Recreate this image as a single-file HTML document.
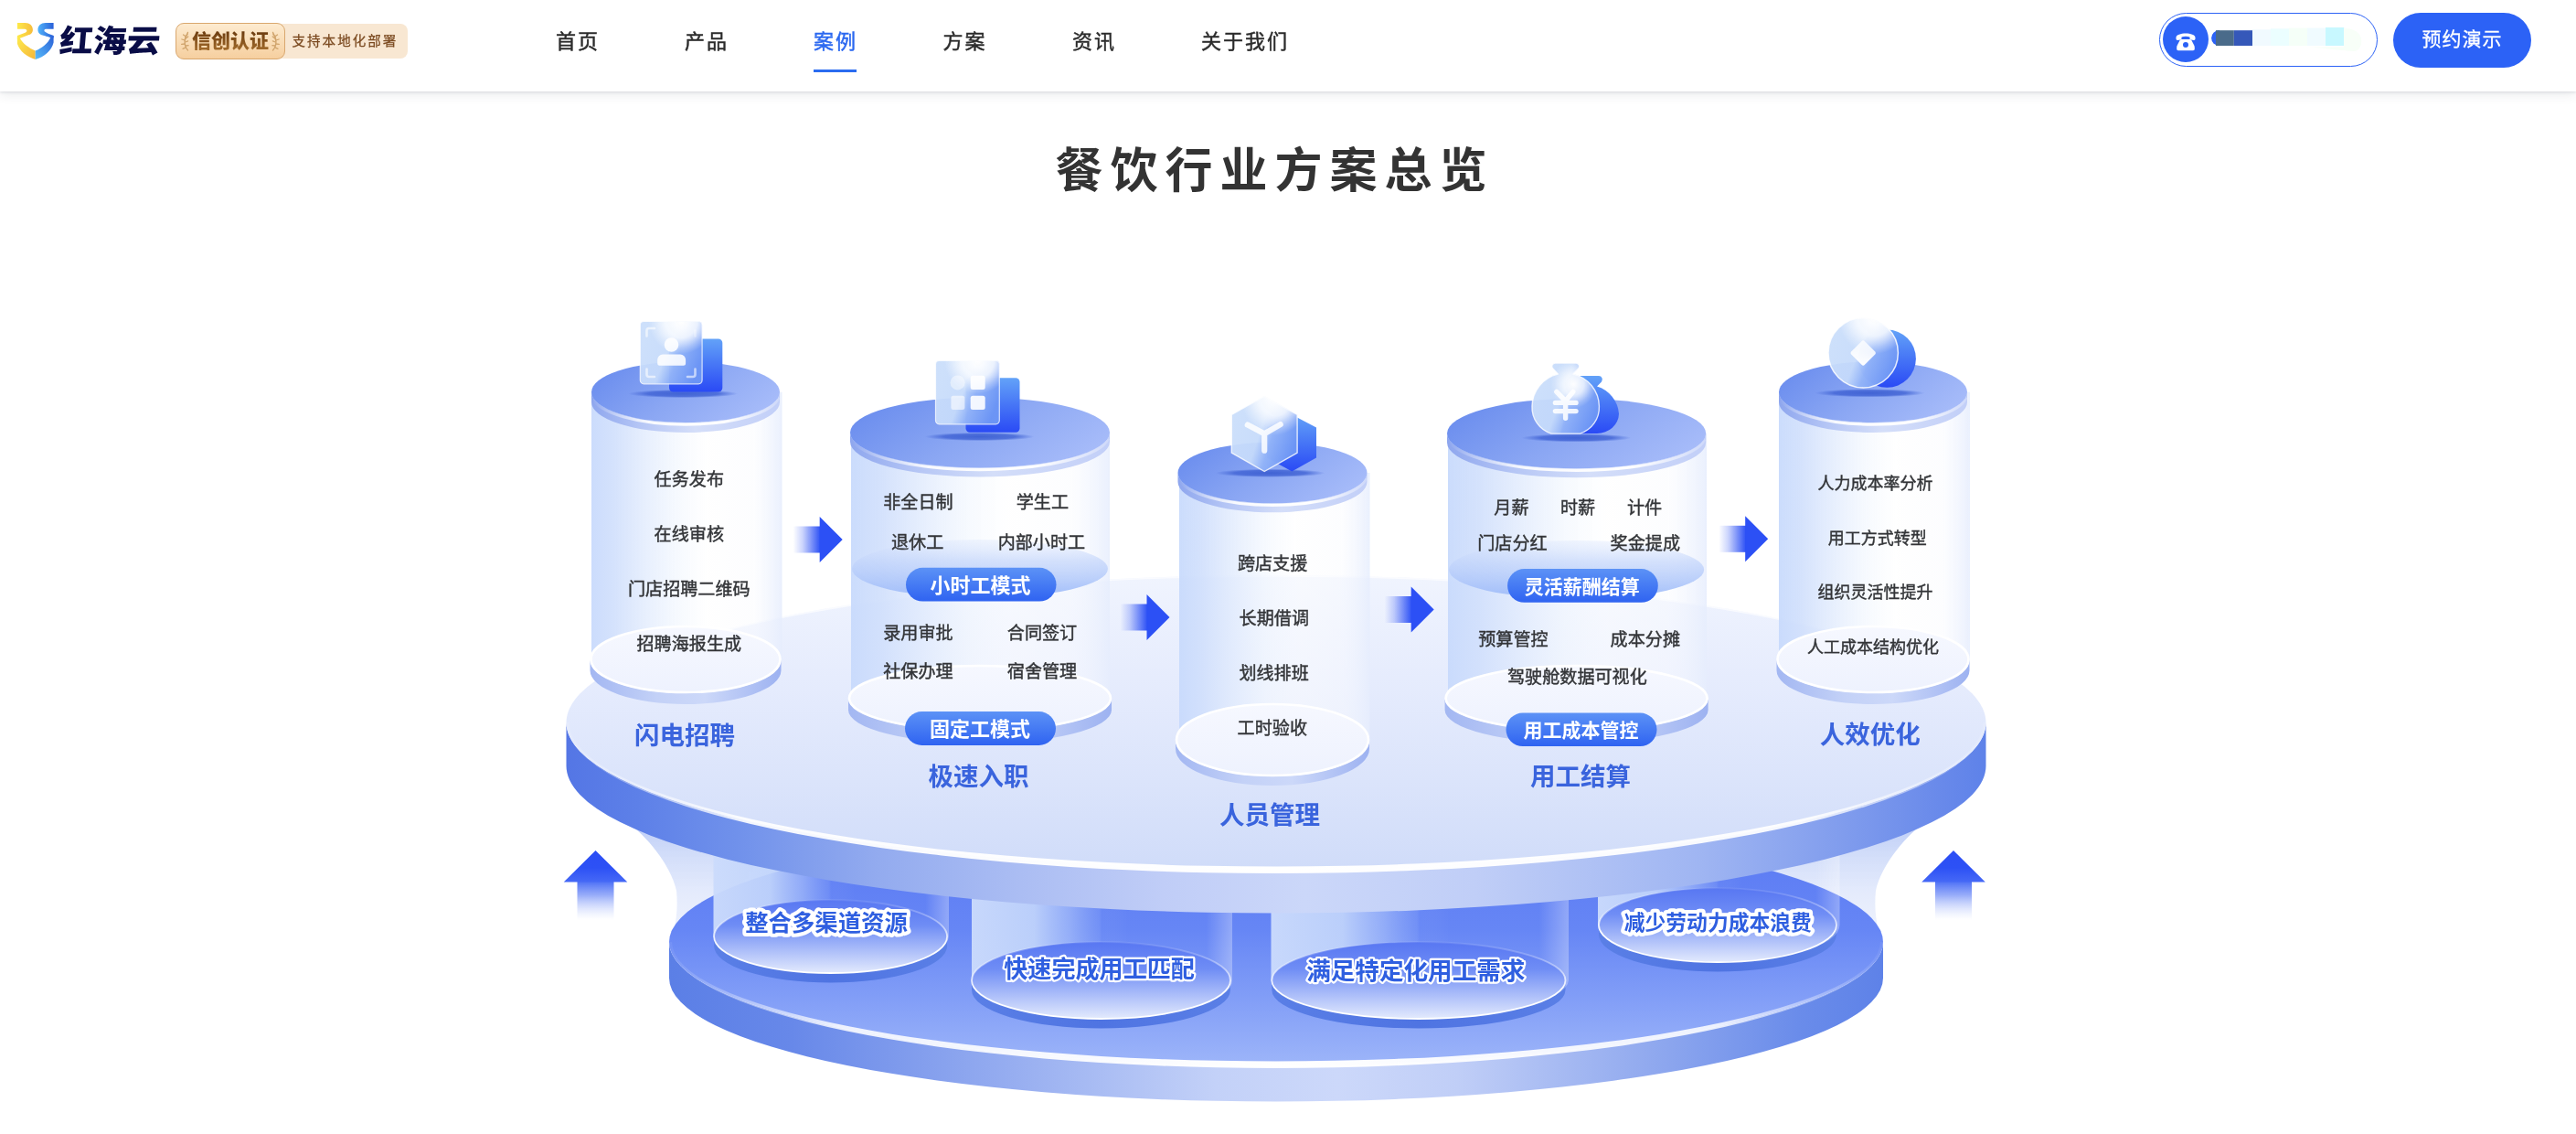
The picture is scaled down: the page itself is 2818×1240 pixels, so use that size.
<!DOCTYPE html>
<html lang="zh-CN"><head><meta charset="utf-8"><title>餐饮行业方案总览</title>
<style>
html,body{margin:0;padding:0;background:#fff;}
body{width:2818px;height:1240px;position:relative;overflow:hidden;font-family:'Liberation Sans','Noto Sans CJK SC',sans-serif;}
.hd{will-change:transform;position:absolute;left:0;top:0;width:2818px;height:100px;background:#fff;box-shadow:0 1px 3px rgba(40,50,70,.12),0 3px 12px rgba(40,50,70,.10);}
.hd *{position:absolute;white-space:nowrap;margin:0;}
.logo-t{left:62.5px;top:17.8px;font-size:34.3px;line-height:54px;font-weight:900;color:#0a0d47;letter-spacing:0;transform:skewX(-5deg) scaleX(1.07);transform-origin:0 100%;}
.bdg-r{left:300px;top:26px;width:146px;height:38px;border-radius:0 8px 8px 0;background:#f8e7d2;}
.bdg-r span{left:19.5px;top:0;line-height:38px;font-size:14.5px;letter-spacing:2.05px;color:#7b4a20;-webkit-text-stroke:0.25px #7b4a20;}
.bdg-l{left:192px;top:25px;width:118px;height:38px;border-radius:9px;border:1px solid #d9a76e;background:linear-gradient(180deg,#fdebd0 0%,#f9dcb5 55%,#f6cf9f 100%);}
.bdg-l span{left:0;width:118px;text-align:center;top:0;line-height:38px;font-size:21px;font-weight:900;letter-spacing:0px;color:transparent;background:linear-gradient(180deg,#6a3a0e 20%,#a9722f 85%);-webkit-background-clip:text;background-clip:text;}
.nav{top:0;height:100px;}
.nav a{top:28.6px;line-height:34px;font-size:22px;letter-spacing:2px;color:#2b2b2b;text-decoration:none;font-weight:400;-webkit-text-stroke:0.45px #2b2b2b;}
.nav a.on{color:#2b68f0;-webkit-text-stroke:0.45px #2b68f0;}
.nav i{left:890px;top:75.6px;width:47px;height:3.4px;background:#2b6cf0;}
.tel{left:2362px;top:14px;width:237px;height:56.5px;border:1.5px solid #2c62f6;border-radius:30px;}
.tel b{left:3px;top:3.2px;width:50px;height:50px;border-radius:50%;background:#2c62f6;}
.btn{left:2618px;top:14px;width:151px;height:60px;border-radius:30px;background:#2c62f6;color:#fff;font-size:21px;letter-spacing:1px;line-height:58px;text-align:center;-webkit-text-stroke:0.3px #fff;}
.ttl{left:0;top:148.8px;width:2789px;text-align:center;font-size:52px;letter-spacing:8px;line-height:76px;font-weight:700;color:#333;padding-left:0;}

</style></head><body>
<svg width="2818" height="1240" viewBox="0 0 2818 1240" style="position:absolute;left:0;top:0;will-change:transform" font-family="'Liberation Sans','Noto Sans CJK SC',sans-serif"><defs><linearGradient id="capTop" x1="0" y1="0.2" x2="1" y2="0.6"><stop offset="0" stop-color="#698cee"/><stop offset="0.5" stop-color="#8aa6f3"/><stop offset="1" stop-color="#a6bbf9"/></linearGradient><linearGradient id="capSide" x1="0" y1="0" x2="1" y2="0"><stop offset="0" stop-color="#8ea6ee"/><stop offset="0.25" stop-color="#b4c5f5"/><stop offset="0.55" stop-color="#d4def9"/><stop offset="1" stop-color="#c2cff8"/></linearGradient><linearGradient id="capHl" x1="0" y1="0" x2="1" y2="0"><stop offset="0" stop-color="#ffffff" stop-opacity="0"/><stop offset="0.3" stop-color="#ffffff" stop-opacity="0.9"/><stop offset="0.7" stop-color="#ffffff" stop-opacity="1"/><stop offset="1" stop-color="#ffffff" stop-opacity="0.2"/></linearGradient><linearGradient id="bodyG" x1="0" y1="0" x2="1" y2="0"><stop offset="0" stop-color="#c8dafc" stop-opacity="0.95"/><stop offset="0.12" stop-color="#d0dffc" stop-opacity="0.9"/><stop offset="0.45" stop-color="#f2f7fe" stop-opacity="0.7"/><stop offset="0.62" stop-color="#ffffff" stop-opacity="0.5"/><stop offset="0.85" stop-color="#fbfcff" stop-opacity="0.5"/><stop offset="1" stop-color="#e6edfd" stop-opacity="0.85"/></linearGradient><linearGradient id="botTop" x1="0" y1="0" x2="0" y2="1"><stop offset="0" stop-color="#f6f8ff"/><stop offset="1" stop-color="#eef2fe"/></linearGradient><linearGradient id="botSide" x1="0" y1="0" x2="1" y2="0"><stop offset="0" stop-color="#a3b7f2"/><stop offset="0.35" stop-color="#c3d1f7"/><stop offset="0.6" stop-color="#ccd8f9"/><stop offset="1" stop-color="#9db2f1"/></linearGradient><linearGradient id="pillG" x1="0" y1="0" x2="0" y2="1"><stop offset="0" stop-color="#5c92f6"/><stop offset="1" stop-color="#2f63f1"/></linearGradient><radialGradient id="shadG" cx="0.5" cy="0.5" r="0.5"><stop offset="0" stop-color="#3d60d2" stop-opacity="0.95"/><stop offset="0.65" stop-color="#4466d6" stop-opacity="0.85"/><stop offset="1" stop-color="#4668d6" stop-opacity="0"/></radialGradient><linearGradient id="midG" x1="0" y1="0" x2="0" y2="1"><stop offset="0" stop-color="#dbe6fd" stop-opacity="0.35"/><stop offset="0.35" stop-color="#c3d5fb" stop-opacity="0.7"/><stop offset="1" stop-color="#9bb9f9" stop-opacity="0.95"/></linearGradient><linearGradient id="l1" x1="640" y1="0" x2="2152" y2="0" gradientUnits="userSpaceOnUse"><stop offset="0" stop-color="#c4d3f8" stop-opacity="0.95"/><stop offset="0.08" stop-color="#dfe7fc" stop-opacity="0.8"/><stop offset="0.16" stop-color="#eef2fe" stop-opacity="0.55"/><stop offset="0.5" stop-color="#ffffff" stop-opacity="0.0"/><stop offset="0.84" stop-color="#eef2fe" stop-opacity="0.55"/><stop offset="0.92" stop-color="#dfe7fc" stop-opacity="0.8"/><stop offset="1" stop-color="#c4d3f8" stop-opacity="0.95"/></linearGradient><linearGradient id="l2" x1="0" y1="895" x2="0" y2="1032" gradientUnits="userSpaceOnUse"><stop offset="0" stop-color="#b7c8f6" stop-opacity="0.95"/><stop offset="0.3" stop-color="#cfdbf9" stop-opacity="0.92"/><stop offset="0.6" stop-color="#e2e9fc" stop-opacity="0.9"/><stop offset="1" stop-color="#f0f4fe" stop-opacity="0.9"/></linearGradient><linearGradient id="l3" x1="0" y1="0" x2="1" y2="0"><stop offset="0" stop-color="#5b7fe6"/><stop offset="0.1" stop-color="#6788e9"/><stop offset="0.3" stop-color="#9bb1f1"/><stop offset="0.45" stop-color="#c3d1f8"/><stop offset="0.55" stop-color="#ccd8fa"/><stop offset="0.65" stop-color="#c0cef7"/><stop offset="0.8" stop-color="#93abef"/><stop offset="0.93" stop-color="#6a8cea"/><stop offset="1" stop-color="#5e82e8"/></linearGradient><linearGradient id="l4" x1="0" y1="0" x2="0" y2="1"><stop offset="0" stop-color="#5877f3"/><stop offset="0.45" stop-color="#6686f5"/><stop offset="1" stop-color="#9db5f9"/></linearGradient><linearGradient id="l5" x1="732" y1="0" x2="2060" y2="0" gradientUnits="userSpaceOnUse"><stop offset="0" stop-color="#fff" stop-opacity="0.05"/><stop offset="0.05" stop-color="#fff" stop-opacity="0.3"/><stop offset="0.14" stop-color="#fff" stop-opacity="0.85"/><stop offset="0.5" stop-color="#fff" stop-opacity="1"/><stop offset="0.86" stop-color="#fff" stop-opacity="0.85"/><stop offset="0.95" stop-color="#fff" stop-opacity="0.3"/><stop offset="1" stop-color="#fff" stop-opacity="0.05"/></linearGradient><linearGradient id="l6" x1="0" y1="0" x2="1" y2="0"><stop offset="0" stop-color="#cbdbfc" stop-opacity="0.96"/><stop offset="0.24" stop-color="#c2d5fb" stop-opacity="0.92"/><stop offset="0.38" stop-color="#b0c6fa" stop-opacity="0.6"/><stop offset="0.49" stop-color="#a0b9f9" stop-opacity="0.22"/><stop offset="0.5" stop-color="#a0b9f9" stop-opacity="0.07"/><stop offset="0.6" stop-color="#ffffff" stop-opacity="0"/><stop offset="0.9" stop-color="#ffffff" stop-opacity="0.0"/><stop offset="1" stop-color="#ffffff" stop-opacity="0.3"/></linearGradient><linearGradient id="l7" x1="0" y1="0" x2="0" y2="1"><stop offset="0" stop-color="#5877f2"/><stop offset="0.35" stop-color="#6f8df5"/><stop offset="1" stop-color="#e3eafd"/></linearGradient><linearGradient id="l8" x1="0" y1="0" x2="0" y2="1"><stop offset="0" stop-color="#ffffff" stop-opacity="0.08"/><stop offset="0.35" stop-color="#ffffff" stop-opacity="0.45"/><stop offset="0.6" stop-color="#ffffff" stop-opacity="0.95"/><stop offset="1" stop-color="#ffffff" stop-opacity="1"/></linearGradient><linearGradient id="l9" x1="0" y1="0" x2="1" y2="0"><stop offset="0" stop-color="#5a7fe6"/><stop offset="0.5" stop-color="#4f74e2"/><stop offset="1" stop-color="#5a7fe6"/></linearGradient><linearGradient id="l10" x1="0" y1="0" x2="1" y2="0"><stop offset="0" stop-color="#5476e5"/><stop offset="0.05" stop-color="#5d80e8"/><stop offset="0.12" stop-color="#7091eb"/><stop offset="0.22" stop-color="#93abef"/><stop offset="0.32" stop-color="#abbdf3"/><stop offset="0.42" stop-color="#c0cdf7"/><stop offset="0.52" stop-color="#cbd7f9"/><stop offset="0.64" stop-color="#c0cef7"/><stop offset="0.8" stop-color="#9fb5f2"/><stop offset="0.9" stop-color="#809ced"/><stop offset="0.97" stop-color="#6889ea"/><stop offset="1" stop-color="#5e82e9"/></linearGradient><linearGradient id="l11" x1="0" y1="0" x2="0" y2="1"><stop offset="0" stop-color="#f0f4fe"/><stop offset="0.35" stop-color="#e6ecfd"/><stop offset="0.7" stop-color="#dbe4fb"/><stop offset="1" stop-color="#d0dcf9"/></linearGradient><linearGradient id="l12" x1="619.5" y1="0" x2="2172.5" y2="0" gradientUnits="userSpaceOnUse"><stop offset="0" stop-color="#fff" stop-opacity="0.1"/><stop offset="0.04" stop-color="#fff" stop-opacity="0.35"/><stop offset="0.13" stop-color="#fff" stop-opacity="0.92"/><stop offset="0.5" stop-color="#fff" stop-opacity="1"/><stop offset="0.87" stop-color="#fff" stop-opacity="0.92"/><stop offset="0.96" stop-color="#fff" stop-opacity="0.35"/><stop offset="1" stop-color="#fff" stop-opacity="0.1"/></linearGradient><linearGradient id="glassG" x1="0.05" y1="0.35" x2="0.95" y2="0.7"><stop offset="0" stop-color="#cadefb" stop-opacity="0.94"/><stop offset="0.42" stop-color="#c6dbfb" stop-opacity="0.94"/><stop offset="0.62" stop-color="#93b4f8" stop-opacity="0.96"/><stop offset="1" stop-color="#6d96f5" stop-opacity="0.97"/></linearGradient><radialGradient id="glassHi" cx="0.66" cy="0.0" r="0.52"><stop offset="0" stop-color="#ffffff" stop-opacity="1"/><stop offset="0.5" stop-color="#f8fbff" stop-opacity="0.88"/><stop offset="0.8" stop-color="#ffffff" stop-opacity="0.3"/><stop offset="1" stop-color="#ffffff" stop-opacity="0"/></radialGradient><radialGradient id="glassHiB" cx="0.62" cy="0.3" r="0.34"><stop offset="0" stop-color="#ffffff" stop-opacity="0.98"/><stop offset="0.45" stop-color="#f8fbff" stop-opacity="0.8"/><stop offset="0.8" stop-color="#ffffff" stop-opacity="0.22"/><stop offset="1" stop-color="#ffffff" stop-opacity="0"/></radialGradient><linearGradient id="backG" x1="0" y1="0" x2="0" y2="1"><stop offset="0" stop-color="#63a2f8"/><stop offset="0.5" stop-color="#4675f6"/><stop offset="1" stop-color="#2a4af5"/></linearGradient><linearGradient id="l13" x1="0" y1="0" x2="1" y2="1"><stop offset="0" stop-color="#ffffff" stop-opacity="0.75"/><stop offset="1" stop-color="#ffffff" stop-opacity="1"/></linearGradient><linearGradient id="l14" x1="867.7" y1="0" x2="897.7" y2="0" gradientUnits="userSpaceOnUse"><stop offset="0" stop-color="#2c50f5" stop-opacity="0"/><stop offset="0.35" stop-color="#2c50f5" stop-opacity="0.25"/><stop offset="1" stop-color="#2c50f5" stop-opacity="1"/></linearGradient><linearGradient id="l15" x1="1225.5" y1="0" x2="1255.5" y2="0" gradientUnits="userSpaceOnUse"><stop offset="0" stop-color="#2c50f5" stop-opacity="0"/><stop offset="0.35" stop-color="#2c50f5" stop-opacity="0.25"/><stop offset="1" stop-color="#2c50f5" stop-opacity="1"/></linearGradient><linearGradient id="l16" x1="1514.7" y1="0" x2="1544.7" y2="0" gradientUnits="userSpaceOnUse"><stop offset="0" stop-color="#2c50f5" stop-opacity="0"/><stop offset="0.35" stop-color="#2c50f5" stop-opacity="0.25"/><stop offset="1" stop-color="#2c50f5" stop-opacity="1"/></linearGradient><linearGradient id="l17" x1="1880.2" y1="0" x2="1910.2" y2="0" gradientUnits="userSpaceOnUse"><stop offset="0" stop-color="#2c50f5" stop-opacity="0"/><stop offset="0.35" stop-color="#2c50f5" stop-opacity="0.25"/><stop offset="1" stop-color="#2c50f5" stop-opacity="1"/></linearGradient><linearGradient id="l18" x1="0" y1="0" x2="0" y2="1"><stop offset="0" stop-color="#2b4ef5"/><stop offset="0.55" stop-color="#2d51f5"/><stop offset="1" stop-color="#4669f6"/></linearGradient><linearGradient id="l19" x1="0" y1="964" x2="0" y2="1006" gradientUnits="userSpaceOnUse"><stop offset="0" stop-color="#4d70f6" stop-opacity="1"/><stop offset="0.35" stop-color="#7d97f8" stop-opacity="0.8"/><stop offset="1" stop-color="#c9d5fc" stop-opacity="0"/></linearGradient><linearGradient id="l20" x1="0" y1="0" x2="0" y2="1"><stop offset="0" stop-color="#2b4ef5"/><stop offset="0.55" stop-color="#2d51f5"/><stop offset="1" stop-color="#4669f6"/></linearGradient><linearGradient id="l21" x1="0" y1="964" x2="0" y2="1006" gradientUnits="userSpaceOnUse"><stop offset="0" stop-color="#4d70f6" stop-opacity="1"/><stop offset="0.35" stop-color="#7d97f8" stop-opacity="0.8"/><stop offset="1" stop-color="#c9d5fc" stop-opacity="0"/></linearGradient></defs>
<path d="M680.0,890.0 L687.0,900.0 C705.0,912.0 734.0,945.0 740.0,974.0 C741.5,990.0 741.0,1010.0 732.0,1032.0 L966.0,1032.0 L966.0,880.0 Z" fill="url(#l2)"/>
<path d="M2112.0,890.0 L2105.0,900.0 C2087.0,912.0 2058.0,945.0 2052.0,974.0 C2050.5,990.0 2051.0,1010.0 2060.0,1032.0 L1826.0,1032.0 L1826.0,880.0 Z" fill="url(#l2)"/>
<path d="M732.0,1030.0 A664.0,135.0 0 0 0 2060.0,1030.0 L2060.0,1069.5 A664.0,135.0 0 0 1 732.0,1069.5 Z" fill="url(#l3)"/>
<ellipse cx="1396" cy="1030" rx="664" ry="135" fill="url(#l4)"/>
<path d="M732.0,1030.0 A664.0,137.9 0 0 0 2060.0,1030.0 L2057.0,1030.0 A661.0,130.5 0 0 1 735.0,1030.0 Z" fill="url(#l5)"/>
<path d="M781.1,1024.0 A127.5,40.0 0 0 0 1036.1,1024.0 L1036.1,1034.5 A127.5,40.0 0 0 1 781.1,1034.5 Z" fill="url(#l9)"/>
<path d="M780.5,900 L780.5,1024.0 A128.8,40.0 0 0 0 1038.0,1024.0 L1038.0,900 Z" fill="url(#l6)"/>
<ellipse cx="908.6" cy="1024.0" rx="127.5" ry="40.0" fill="url(#l7)" stroke="url(#l8)" stroke-width="1.8"/>
<text x="904.0" y="1017.5" font-size="25.4" font-weight="700" fill="#2f5fe0" text-anchor="middle" stroke="#ffffff" stroke-width="8" stroke-linejoin="round" paint-order="stroke fill">整合多渠道资源</text>
<path d="M1063.0,1072.0 A141.5,42.0 0 0 0 1346.0,1072.0 L1346.0,1082.5 A141.5,42.0 0 0 1 1063.0,1082.5 Z" fill="url(#l9)"/>
<path d="M1063.0,940 L1063.0,1072.0 A142.5,42.0 0 0 0 1348.0,1072.0 L1348.0,940 Z" fill="url(#l6)"/>
<ellipse cx="1204.5" cy="1072.0" rx="141.5" ry="42.0" fill="url(#l7)" stroke="url(#l8)" stroke-width="1.8"/>
<text x="1202.6" y="1069.0" font-size="26.1" font-weight="700" fill="#2f5fe0" text-anchor="middle" stroke="#ffffff" stroke-width="4.5" stroke-linejoin="round" paint-order="stroke fill">快速完成用工匹配</text>
<path d="M1391.3,1072.0 A160.6,42.0 0 0 0 1712.5,1072.0 L1712.5,1082.5 A160.6,42.0 0 0 1 1391.3,1082.5 Z" fill="url(#l9)"/>
<path d="M1390.5,940 L1390.5,1072.0 A162.8,42.0 0 0 0 1716.0,1072.0 L1716.0,940 Z" fill="url(#l6)"/>
<ellipse cx="1551.9" cy="1072.0" rx="160.6" ry="42.0" fill="url(#l7)" stroke="url(#l8)" stroke-width="1.8"/>
<text x="1548.8" y="1070.7" font-size="26.6" font-weight="700" fill="#2f5fe0" text-anchor="middle" stroke="#ffffff" stroke-width="4.5" stroke-linejoin="round" paint-order="stroke fill">满足特定化用工需求</text>
<path d="M1749.0,1011.6 A130.0,40.5 0 0 0 2009.0,1011.6 L2009.0,1022.1 A130.0,40.5 0 0 1 1749.0,1022.1 Z" fill="url(#l9)"/>
<path d="M1748.0,900 L1748.0,1011.6 A132.2,40.5 0 0 0 2012.5,1011.6 L2012.5,900 Z" fill="url(#l6)"/>
<ellipse cx="1879.0" cy="1011.6" rx="130.0" ry="40.5" fill="url(#l7)" stroke="url(#l8)" stroke-width="1.8"/>
<text x="1879.3" y="1016.9" font-size="22.8" font-weight="700" fill="#2f5fe0" text-anchor="middle" stroke="#ffffff" stroke-width="8" stroke-linejoin="round" paint-order="stroke fill">减少劳动力成本浪费</text>
<path d="M619.5,790.0 A776.5,161.0 0 0 0 2172.5,790.0 L2172.5,837.5 A776.5,161.0 0 0 1 619.5,837.5 Z" fill="url(#l10)"/>
<ellipse cx="1396" cy="790" rx="776.5" ry="161" fill="url(#l11)"/>
<path d="M619.5,790.0 A776.5,165.0 0 0 0 2172.5,790.0 L2169.5,790.0 A773.5,157.6 0 0 1 622.5,790.0 Z" fill="url(#l12)"/>
<path d="M679.5,728.8 A776.5,161.0 0 0 1 2112.5,728.8" fill="none" stroke="#ffffff" stroke-opacity="0.65" stroke-width="1.6"/>
<path d="M647.0,428.7 L647.0,721.0 A104.2,37.0 0 0 0 855.5,721.0 L855.5,428.7 Z" fill="url(#bodyG)"/>
<path d="M645.5,721.0 A104.5,37.0 0 0 0 854.5,721.0 L854.5,733.0 A104.5,37.0 0 0 1 645.5,733.0 Z" fill="url(#botSide)"/>
<ellipse cx="750.0" cy="721.0" rx="103.5" ry="36.0" fill="url(#botTop)" stroke="#ffffff" stroke-width="2.6"/>
<path d="M647.0,428.7 A103.0,33.3 0 0 0 853.0,428.7 L853.0,439.7 A103.0,33.3 0 0 1 647.0,439.7 Z" fill="url(#capSide)"/>
<path d="M851.8,434.7 A102.5,33.3 0 0 1 648.2,434.7" fill="none" stroke="url(#capHl)" stroke-width="3.2"/>
<ellipse cx="750.0" cy="428.7" rx="103.0" ry="33.3" fill="url(#capTop)"/>
<path d="M1946.0,428.7 L1946.0,721.0 A104.5,37.0 0 0 0 2155.0,721.0 L2155.0,428.7 Z" fill="url(#bodyG)"/>
<path d="M1943.5,721.0 A105.5,37.0 0 0 0 2154.5,721.0 L2154.5,733.0 A105.5,37.0 0 0 1 1943.5,733.0 Z" fill="url(#botSide)"/>
<ellipse cx="2049.0" cy="721.0" rx="104.5" ry="36.0" fill="url(#botTop)" stroke="#ffffff" stroke-width="2.6"/>
<path d="M1946.0,428.7 A103.0,33.3 0 0 0 2152.0,428.7 L2152.0,439.7 A103.0,33.3 0 0 1 1946.0,439.7 Z" fill="url(#capSide)"/>
<path d="M2150.8,434.7 A102.5,33.3 0 0 1 1947.2,434.7" fill="none" stroke="url(#capHl)" stroke-width="3.2"/>
<ellipse cx="2049.0" cy="428.7" rx="103.0" ry="33.3" fill="url(#capTop)"/>
<path d="M1290.0,517.0 L1290.0,809.0 A104.2,40.0 0 0 0 1498.5,809.0 L1498.5,517.0 Z" fill="url(#bodyG)"/>
<path d="M1286.0,809.0 A106.0,40.0 0 0 0 1498.0,809.0 L1498.0,819.0 A106.0,40.0 0 0 1 1286.0,819.0 Z" fill="url(#botSide)"/>
<ellipse cx="1392.0" cy="809.0" rx="105.0" ry="39.0" fill="url(#botTop)" stroke="#ffffff" stroke-width="2.6"/>
<path d="M1288.5,517.0 A103.5,33.3 0 0 0 1495.5,517.0 L1495.5,527.0 A103.5,33.3 0 0 1 1288.5,527.0 Z" fill="url(#capSide)"/>
<path d="M1494.3,523.0 A103.0,33.3 0 0 1 1289.7,523.0" fill="none" stroke="url(#capHl)" stroke-width="3.2"/>
<ellipse cx="1392.0" cy="517.0" rx="103.5" ry="33.3" fill="url(#capTop)"/>
<path d="M931.0,473.0 L931.0,763.5 A141.5,36.5 0 0 0 1214.0,763.5 L1214.0,473.0 Z" fill="url(#bodyG)"/>
<path d="M928.0,763.5 A144.0,36.5 0 0 0 1216.0,763.5 L1216.0,776.5 A144.0,36.5 0 0 1 928.0,776.5 Z" fill="url(#botSide)"/>
<ellipse cx="1072.0" cy="763.5" rx="143.0" ry="35.5" fill="url(#botTop)" stroke="#ffffff" stroke-width="2.6"/>
<ellipse cx="1072.0" cy="622.0" rx="140.0" ry="32.0" fill="url(#midG)"/>
<path d="M930.0,473.0 A142.0,38.5 0 0 0 1214.0,473.0 L1214.0,483.0 A142.0,38.5 0 0 1 930.0,483.0 Z" fill="url(#capSide)"/>
<path d="M1212.5,479.6 A141.5,38.5 0 0 1 931.5,479.6" fill="none" stroke="url(#capHl)" stroke-width="3.2"/>
<ellipse cx="1072.0" cy="473.0" rx="142.0" ry="38.5" fill="url(#capTop)"/>
<path d="M1584.0,474.0 L1584.0,763.5 A141.5,36.5 0 0 0 1867.0,763.5 L1867.0,474.0 Z" fill="url(#bodyG)"/>
<path d="M1580.6,763.5 A144.0,36.5 0 0 0 1868.6,763.5 L1868.6,776.5 A144.0,36.5 0 0 1 1580.6,776.5 Z" fill="url(#botSide)"/>
<ellipse cx="1724.6" cy="763.5" rx="143.0" ry="35.5" fill="url(#botTop)" stroke="#ffffff" stroke-width="2.6"/>
<ellipse cx="1724.6" cy="623.0" rx="139.6" ry="32.0" fill="url(#midG)"/>
<path d="M1583.0,474.0 A141.6,38.3 0 0 0 1866.2,474.0 L1866.2,484.0 A141.6,38.3 0 0 1 1583.0,484.0 Z" fill="url(#capSide)"/>
<path d="M1864.7,480.6 A141.1,38.3 0 0 1 1584.5,480.6" fill="none" stroke="url(#capHl)" stroke-width="3.2"/>
<ellipse cx="1724.6" cy="474.0" rx="141.6" ry="38.3" fill="url(#capTop)"/>
<ellipse cx="747.0" cy="430.5" rx="60" ry="4.6" fill="url(#shadG)"/>
<rect x="732" y="370.5" width="58.3" height="58" rx="4.5" fill="url(#backG)"/>
<rect x="700.3" y="351.5" width="67.8" height="68.3" rx="4" fill="url(#glassG)"/>
<rect x="700.3" y="351.5" width="67.8" height="68.3" rx="4" fill="url(#glassHi)" stroke="#ffffff" stroke-opacity="0.75" stroke-width="1.2" stroke-linejoin="round"/>
<g fill="#ffffff" fill-opacity="0.88"><circle cx="734.5" cy="377" r="7.8"/><path d="M719.2,397.3 v-3.7 a6,6 0 0 1 6,-6 h18.9 a6,6 0 0 1 6,6 v3.7 a2.5,2.5 0 0 1 -2.5,2.5 h-25.9 a2.5,2.5 0 0 1 -2.5,-2.5 z"/></g>
<g fill="none" stroke="#ffffff" stroke-opacity="0.6" stroke-width="2.6" stroke-linecap="round" stroke-linejoin="round"><path d="M707.5,367.5 v-6 a2.5,2.5 0 0 1 2.5,-2.5 h6"/><path d="M707.5,403.5 v6 a2.5,2.5 0 0 0 2.5,2.5 h6"/><path d="M760.5,403.5 v6 a2.5,2.5 0 0 1 -2.5,2.5 h-6"/><path d="M760.5,367.5 v-6" stroke-opacity="0.35"/></g>
<ellipse cx="1071.5" cy="477.5" rx="60" ry="4.6" fill="url(#shadG)"/>
<rect x="1056.5" y="413.3" width="59" height="59.5" rx="4.5" fill="url(#backG)"/>
<rect x="1023.5" y="394.3" width="69.8" height="69.5" rx="4" fill="url(#glassG)"/>
<rect x="1023.5" y="394.3" width="69.8" height="69.5" rx="4" fill="url(#glassHi)" stroke="#ffffff" stroke-opacity="0.75" stroke-width="1.2" stroke-linejoin="round"/>
<g fill="#ffffff"><circle cx="1047.6" cy="418.4" r="8" fill-opacity="0.45"/><rect x="1061.7" y="410.7" width="16" height="15.3" rx="2.5" fill-opacity="0.9"/><rect x="1061.7" y="432.7" width="16" height="15.3" rx="2.5" fill-opacity="0.9"/><rect x="1040.4" y="432.7" width="15" height="15.3" rx="2.5" fill-opacity="0.6"/></g>
<ellipse cx="1389.5" cy="517.3" rx="60" ry="4.6" fill="url(#shadG)"/>
<path d="M1413.3,453.5 L1440,467.5 L1440,500.5 L1413.3,515.5 L1386,500.5 L1386,467.5 Z" fill="url(#backG)"/>
<path d="M1383.2,433.1 L1419.1,453.5 L1419.1,495.2 L1383.2,515.5 L1347.3,495.2 L1347.3,453.5 Z" fill="url(#glassG)"/>
<path d="M1383.2,433.1 L1419.1,453.5 L1419.1,495.2 L1383.2,515.5 L1347.3,495.2 L1347.3,453.5 Z" fill="url(#glassHi)" stroke="#ffffff" stroke-opacity="0.8" stroke-width="1.4" stroke-linejoin="round"/>
<path d="M1364.8,464.6 L1383.2,474.3 L1400.7,464.1 M1383.2,474.3 L1383.2,492.7" fill="none" stroke="#ffffff" stroke-opacity="0.85" stroke-width="6.2" stroke-linecap="round" stroke-linejoin="round"/>
<ellipse cx="1724.4" cy="478.8" rx="60" ry="4.6" fill="url(#shadG)"/>
<path d="M1722,411 h27 a4,4 0 0 1 3,6.5 l-5,5 a34,34 0 0 1 24,30 a24,22 0 0 1 -24,21.5 h-40 z" fill="url(#backG)"/>
<path d="M1696.5,397 h27.6 a3.6,3.6 0 0 1 2.6,6.1 l-5.6,6 a36.7,36.7 0 0 1 28.3,35 a30,30 0 0 1 -21,30 h-31.4 a30,30 0 0 1 -21,-30 a36.7,36.7 0 0 1 28.3,-35 l-5.6,-6 a3.6,3.6 0 0 1 2.6,-6.1 z" fill="url(#glassG)"/>
<path d="M1696.5,397 h27.6 a3.6,3.6 0 0 1 2.6,6.1 l-5.6,6 a36.7,36.7 0 0 1 28.3,35 a30,30 0 0 1 -21,30 h-31.4 a30,30 0 0 1 -21,-30 a36.7,36.7 0 0 1 28.3,-35 l-5.6,-6 a3.6,3.6 0 0 1 2.6,-6.1 z" fill="url(#glassHiB)" stroke="#ffffff" stroke-opacity="0.8" stroke-width="1.4" stroke-linejoin="round"/>
<path d="M1702.8,428.4 L1712.6,438.5 L1720.8,428.4 M1712.6,438.5 V457.2 M1701.4,440.4 H1724 M1701.4,449.6 H1724" fill="none" stroke="#ffffff" stroke-opacity="0.88" stroke-width="5.4" stroke-linecap="round" stroke-linejoin="round"/>
<ellipse cx="2045.4" cy="429.8" rx="60" ry="4.6" fill="url(#shadG)"/>
<circle cx="2064.3" cy="392.2" r="31.6" fill="url(#backG)"/>
<circle cx="2038.2" cy="385.7" r="38.2" fill="url(#glassG)"/>
<circle cx="2038.2" cy="385.7" r="38.2" fill="url(#glassHi)" stroke="#ffffff" stroke-opacity="0.85" stroke-width="1.5" stroke-linejoin="round"/>
<rect x="2027.9" y="375.7" width="20.6" height="20.6" rx="2.5" transform="rotate(45 2038.2 386)" fill="url(#l13)"/>
<text x="753.8" y="530.9" font-size="19.1" font-weight="400" fill="#333538" text-anchor="middle" stroke="#333538" stroke-width="0.42">任务发布</text>
<text x="753.8" y="590.9" font-size="19.1" font-weight="400" fill="#333538" text-anchor="middle" stroke="#333538" stroke-width="0.42">在线审核</text>
<text x="753.8" y="650.9" font-size="19.1" font-weight="400" fill="#333538" text-anchor="middle" stroke="#333538" stroke-width="0.42">门店招聘二维码</text>
<text x="753.8" y="710.9" font-size="19.1" font-weight="400" fill="#333538" text-anchor="middle" stroke="#333538" stroke-width="0.42">招聘海报生成</text>
<text x="2051.4" y="535.2" font-size="18" font-weight="400" fill="#333538" text-anchor="middle" stroke="#333538" stroke-width="0.42">人力成本率分析</text>
<text x="2053.7" y="594.8" font-size="18" font-weight="400" fill="#333538" text-anchor="middle" stroke="#333538" stroke-width="0.42">用工方式转型</text>
<text x="2051.4" y="654.4" font-size="18" font-weight="400" fill="#333538" text-anchor="middle" stroke="#333538" stroke-width="0.42">组织灵活性提升</text>
<text x="2049.0" y="714.0" font-size="18" font-weight="400" fill="#333538" text-anchor="middle" stroke="#333538" stroke-width="0.42">人工成本结构优化</text>
<text x="1392.1" y="623.1" font-size="19.1" font-weight="400" fill="#333538" text-anchor="middle" stroke="#333538" stroke-width="0.42">跨店支援</text>
<text x="1393.8" y="683.1" font-size="19.1" font-weight="400" fill="#333538" text-anchor="middle" stroke="#333538" stroke-width="0.42">长期借调</text>
<text x="1393.6" y="743.1" font-size="19.1" font-weight="400" fill="#333538" text-anchor="middle" stroke="#333538" stroke-width="0.42">划线排班</text>
<text x="1391.8" y="803.1" font-size="19.1" font-weight="400" fill="#333538" text-anchor="middle" stroke="#333538" stroke-width="0.42">工时验收</text>
<text x="1004.4" y="555.5" font-size="19.1" font-weight="400" fill="#333538" text-anchor="middle" stroke="#333538" stroke-width="0.42">非全日制</text>
<text x="1140.4" y="555.5" font-size="19.1" font-weight="400" fill="#333538" text-anchor="middle" stroke="#333538" stroke-width="0.42">学生工</text>
<text x="1003.6" y="599.5" font-size="19.1" font-weight="400" fill="#333538" text-anchor="middle" stroke="#333538" stroke-width="0.42">退休工</text>
<text x="1139.4" y="599.5" font-size="19.1" font-weight="400" fill="#333538" text-anchor="middle" stroke="#333538" stroke-width="0.42">内部小时工</text>
<text x="1004.4" y="698.5" font-size="19.1" font-weight="400" fill="#333538" text-anchor="middle" stroke="#333538" stroke-width="0.42">录用审批</text>
<text x="1140.0" y="698.5" font-size="19.1" font-weight="400" fill="#333538" text-anchor="middle" stroke="#333538" stroke-width="0.42">合同签订</text>
<text x="1004.4" y="740.5" font-size="19.1" font-weight="400" fill="#333538" text-anchor="middle" stroke="#333538" stroke-width="0.42">社保办理</text>
<text x="1140.0" y="740.5" font-size="19.1" font-weight="400" fill="#333538" text-anchor="middle" stroke="#333538" stroke-width="0.42">宿舍管理</text>
<rect x="991.0" y="620.8" width="164.5" height="36.8" rx="18.4" fill="url(#pillG)"/>
<text x="1072.6" y="647.9" font-size="22" font-weight="700" fill="#ffffff" text-anchor="middle">小时工模式</text>
<rect x="990.0" y="778.0" width="165" height="37" rx="18.5" fill="url(#pillG)"/>
<text x="1071.9" y="805.2" font-size="22" font-weight="700" fill="#ffffff" text-anchor="middle">固定工模式</text>
<text x="1653.4" y="561.5" font-size="19.1" font-weight="400" fill="#333538" text-anchor="middle" stroke="#333538" stroke-width="0.42">月薪</text>
<text x="1726.1" y="561.5" font-size="19.1" font-weight="400" fill="#333538" text-anchor="middle" stroke="#333538" stroke-width="0.42">时薪</text>
<text x="1799.1" y="561.5" font-size="19.1" font-weight="400" fill="#333538" text-anchor="middle" stroke="#333538" stroke-width="0.42">计件</text>
<text x="1654.4" y="600.6" font-size="19.1" font-weight="400" fill="#333538" text-anchor="middle" stroke="#333538" stroke-width="0.42">门店分红</text>
<text x="1799.8" y="600.6" font-size="19.1" font-weight="400" fill="#333538" text-anchor="middle" stroke="#333538" stroke-width="0.42">奖金提成</text>
<text x="1655.4" y="705.5" font-size="19.1" font-weight="400" fill="#333538" text-anchor="middle" stroke="#333538" stroke-width="0.42">预算管控</text>
<text x="1799.8" y="705.5" font-size="19.1" font-weight="400" fill="#333538" text-anchor="middle" stroke="#333538" stroke-width="0.42">成本分摊</text>
<text x="1725.4" y="747.1" font-size="19.1" font-weight="400" fill="#333538" text-anchor="middle" stroke="#333538" stroke-width="0.42">驾驶舱数据可视化</text>
<rect x="1649.1" y="622.0" width="164.7" height="36.8" rx="18.4" fill="url(#pillG)"/>
<text x="1730.8" y="648.8" font-size="21" font-weight="700" fill="#ffffff" text-anchor="middle">灵活薪酬结算</text>
<rect x="1647.5" y="779.5" width="165" height="36.6" rx="18.3" fill="url(#pillG)"/>
<text x="1729.4" y="806.2" font-size="21" font-weight="700" fill="#ffffff" text-anchor="middle">用工成本管控</text>
<text x="748.9" y="813.9" font-size="27.5" font-weight="700" fill="#3a64dd" text-anchor="middle">闪电招聘</text>
<text x="1070.4" y="859.4" font-size="27.5" font-weight="700" fill="#3a64dd" text-anchor="middle">极速入职</text>
<text x="1388.9" y="900.9" font-size="27.5" font-weight="700" fill="#3a64dd" text-anchor="middle">人员管理</text>
<text x="1729.0" y="858.9" font-size="27.5" font-weight="700" fill="#3a64dd" text-anchor="middle">用工结算</text>
<text x="2045.8" y="812.9" font-size="27.5" font-weight="700" fill="#3a64dd" text-anchor="middle">人效优化</text>
<rect x="867.7" y="575.5" width="30.5" height="29" fill="url(#l14)"/>
<path d="M896.7,565.0 L921.7,590.0 L896.7,615.0 Z" fill="#2c50f5"/>
<rect x="1225.5" y="660.5" width="30.5" height="29" fill="url(#l15)"/>
<path d="M1254.5,650.0 L1279.5,675.0 L1254.5,700.0 Z" fill="#2c50f5"/>
<rect x="1514.7" y="652.0" width="30.5" height="29" fill="url(#l16)"/>
<path d="M1543.7,641.5 L1568.7,666.5 L1543.7,691.5 Z" fill="#2c50f5"/>
<rect x="1880.2" y="574.8" width="30.5" height="29" fill="url(#l17)"/>
<path d="M1909.2,564.3 L1934.2,589.3 L1909.2,614.3 Z" fill="#2c50f5"/>
<rect x="631.5" y="964.0" width="40" height="44" fill="url(#l19)"/>
<path d="M651.5,930.0 L686.3,964.5 L616.7,964.5 Z" fill="url(#l18)"/>
<rect x="2117.0" y="964.0" width="40" height="44" fill="url(#l21)"/>
<path d="M2137.0,930.0 L2171.8,964.5 L2102.2,964.5 Z" fill="url(#l20)"/>
</svg>
<div class="ttl" style="position:absolute;white-space:nowrap;margin:0">餐饮行业方案总览</div>
<div class="hd">
<svg style="left:0;top:0" width="80" height="100" viewBox="0 0 80 100">
<defs>
<linearGradient id="ly1" x1="0" y1="0" x2="1" y2="0"><stop offset="0" stop-color="#fdea4a"/><stop offset="1" stop-color="#f7bd3c"/></linearGradient>
<linearGradient id="ly2" x1="0" y1="0" x2="1" y2="1"><stop offset="0" stop-color="#fdeb4d"/><stop offset="1" stop-color="#f5b63a"/></linearGradient>
<linearGradient id="lb1" x1="0" y1="0" x2="1" y2="0"><stop offset="0" stop-color="#52b4fa"/><stop offset="1" stop-color="#2a60d8"/></linearGradient>
<linearGradient id="lb2" x1="0" y1="1" x2="1" y2="0"><stop offset="0" stop-color="#58bcfb"/><stop offset="1" stop-color="#2a5fd6"/></linearGradient>
</defs>
<path d="M18.9,40 L18.9,47.8 C21.5,56 29.5,62.5 38.7,65 L38.7,55.5 C31.5,52.5 25,47.5 21.9,42 Z" fill="url(#ly2)"/>
<path d="M18.9,25 H27.5 C32.5,25 35.9,28 35.9,32.5 C35.9,36 33.5,37.8 31,38.3 L18.9,43 V39.1 L27.5,35.8 C29.5,35 29.6,33.5 29,32.8 C28.5,32 27.5,31.8 26.5,31.8 H18.9 Z" fill="url(#ly1)"/>
<path d="M58.6,39 V46.5 C56.5,55.5 48.5,62.3 38.7,65 V55.5 C45.5,53 52.5,47.5 55.2,41 L47,38.2 Z" fill="url(#lb2)"/>
<path d="M58.6,25 H49.8 C44.8,25 41.4,28 41.4,32.5 C41.4,36 43.8,37.9 46.5,38.6 L58.6,41.5 V39 C54,37.6 50.5,36 49,34.6 C48,33.6 48.3,31.8 50.8,31.8 H58.6 Z" fill="url(#lb1)"/>
</svg>
<div class="logo-t">红海云</div>
<div class="bdg-r"><span>支持本地化部署</span></div>
<div class="bdg-l"><span>信创认证</span>
<svg style="left:0;top:0" width="118" height="38" viewBox="0 0 118 38" fill="none" stroke="#d0a46c" stroke-width="1.3" stroke-linecap="round">
<path d="M12,11 C8,16 8,24 12.5,29"/><path d="M10.5,14 l-3,-2 M9.3,18 l-3.4,-1 M9.2,22 l-3.5,.4 M10.2,25.8 l-3.2,1.5 M11.5,12.5 l1,-3.2 M10.2,16 l2.6,-2 M9.8,20 l2.8,-1.2 M10.3,24 l2.8,-.3"/>
<path d="M106,11 C110,16 110,24 105.5,29"/><path d="M107.5,14 l3,-2 M108.7,18 l3.4,-1 M108.8,22 l3.5,.4 M107.8,25.8 l3.2,1.5 M106.5,12.5 l-1,-3.2 M107.8,16 l-2.6,-2 M108.2,20 l-2.8,-1.2 M107.7,24 l-2.8,-.3"/>
</svg>
</div>
<div class="nav">
<a style="left:608px">首页</a><a style="left:749px">产品</a><a class="on" style="left:890px">案例</a><a style="left:1031.5px">方案</a><a style="left:1173px">资讯</a><a style="left:1314px">关于我们</a><i></i>
</div>
<div class="tel"><b></b>
<svg style="left:0;top:0" width="237" height="57" viewBox="0 0 237 57">
<g fill="#fff" transform="translate(0,-1.2)"><path d="M17.5,27.2 c0,-6 21,-6 21,0 v1.6 c0,1 -.8,1.5 -1.6,1.4 l-3.2,-.5 c-.8,-.1 -1.2,-.7 -1.2,-1.4 v-1.6 c-2.8,-1 -6.2,-1 -9,0 v1.6 c0,.7 -.4,1.3 -1.2,1.4 l-3.2,.5 c-.8,.1 -1.6,-.4 -1.6,-1.4 z"/>
<path d="M24,29.3 h8 c1.5,0 2.2,.6 2.9,1.9 l2.3,4.6 c.5,1 .6,1.6 .6,2.6 v1.4 c0,1 -.7,1.7 -1.7,1.7 h-16.200000000000003 c-1,0 -1.7,-.7 -1.7,-1.7 v-1.4 c0,-1 .1,-1.600000 .6,-2.6 l2.3,-4.6 c.7,-1.3 1.4,-1.9 2.9,-1.9 z M28,32.300000 a3,3 0 1 0 0,6 a3,3 0 1 0 0,-6 z" fill-rule="evenodd"/></g>
<path d="M65,18.2 h-0.5 a8.4,8.4 0 0 0 0,16.8 h0.5 z" fill="#2c62f6"/><rect x="61" y="18.2" width="19.8" height="16.8" fill="#4a6b8a"/><rect x="80.8" y="18.2" width="20.2" height="16.8" fill="#3558b9"/>
<rect x="101" y="17.3" width="20" height="17.7" fill="#f1faff"/><rect x="121" y="16.3" width="20" height="18.7" fill="#ebfeff"/><rect x="141" y="15.6" width="20" height="19.4" fill="#f5fff8"/><rect x="161" y="15.6" width="20" height="19.4" fill="#f0fbff"/>
<rect x="181" y="15" width="20.2" height="20" fill="#c8f8ff"/><path d="M201.200000,16 c10,0 19,4 19,14 c0,6 -3,11 -8,11 c-10,0 -30,-3 -50,-4.500000 l39,0 z" fill="#f8fff8"/>
</svg></div>
<div class="btn">预约演示</div>
</div>

</body></html>
